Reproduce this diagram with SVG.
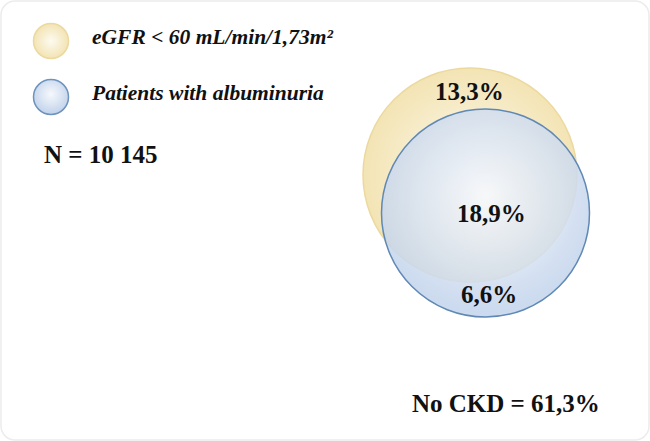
<svg xmlns="http://www.w3.org/2000/svg" width="650" height="441" viewBox="0 0 650 441">
<style>
.t{font-family:"Liberation Serif","Times New Roman",serif;font-weight:bold;fill:#111}
.i{font-style:italic;font-size:21.5px}
.b{font-size:25px}
</style>
<defs>
<radialGradient id="gy" cx="0.5" cy="0.5" r="0.5">
<stop offset="0" stop-color="#fdfaf0"/>
<stop offset="1" stop-color="#f3e4b4"/>
</radialGradient>
<radialGradient id="gb" cx="0.5" cy="0.42" r="0.55">
<stop offset="0" stop-color="#f6f8fc"/>
<stop offset="1" stop-color="#c3d4ec"/>
</radialGradient>
</defs>
<rect x="0" y="0" width="650" height="441" fill="#fff"/>
<rect x="1" y="1" width="648" height="439" rx="14" fill="none" stroke="#ececec" stroke-width="1.5"/>
<g id="legend-egfr">
<circle cx="51" cy="41" r="17.5" fill="url(#gy)" stroke="#ecd9a0" stroke-width="1.5"/>
<text class="t i" x="92" y="44">eGFR &lt; 60 mL/min/1,73m²</text>
</g>
<g id="legend-albuminuria">
<circle cx="51" cy="97" r="17.5" fill="url(#gb)" stroke="#6e93bd" stroke-width="1.5"/>
<text class="t i" x="92" y="100">Patients with albuminuria</text>
</g>
<g id="total">
<text class="t b" x="44" y="163">N = 10 145</text>
</g>
<g id="venn-egfr">
<circle cx="470" cy="175" r="107" fill="url(#gy)" stroke="#ecd9a0" stroke-width="1.5"/>
</g>
<g id="venn-albuminuria">
<circle cx="485.5" cy="213" r="104" fill="url(#gb)" fill-opacity="0.85" stroke="#5f88b4" stroke-width="1.5"/>
</g>
<g id="labels">
<text class="t b" x="435" y="100">13,3%</text>
<text class="t b" x="457" y="222">18,9%</text>
<text class="t b" x="461" y="303">6,6%</text>
<text class="t b" x="412" y="412">No CKD = 61,3%</text>
</g>
<g id="connectors"/>
</svg>
